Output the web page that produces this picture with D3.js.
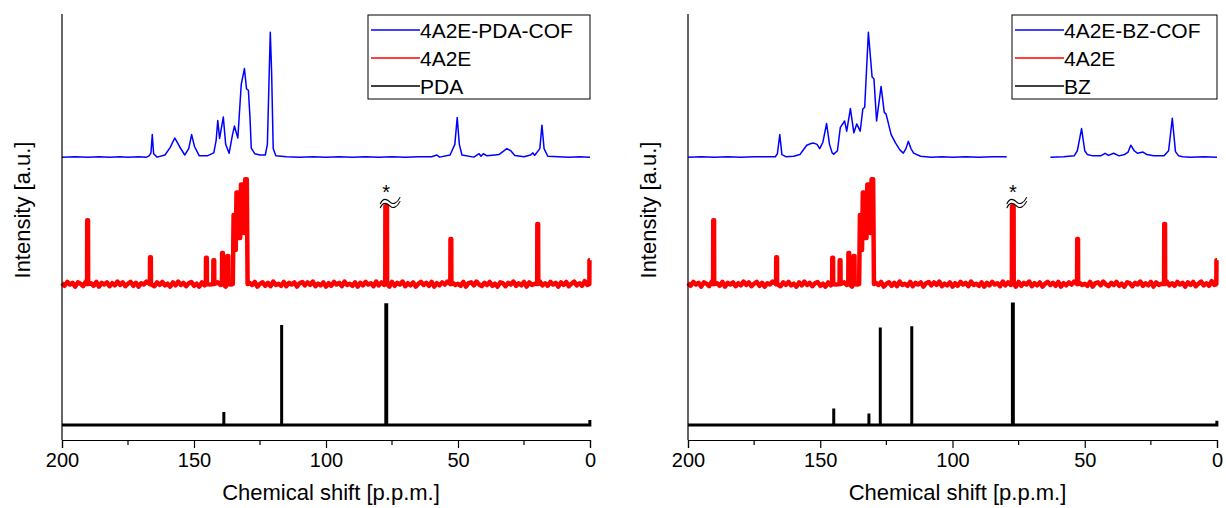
<!DOCTYPE html>
<html>
<head>
<meta charset="utf-8">
<script src="https://cdn.jsdelivr.net/npm/d3@7"></script>
<style>
  body { margin: 0; background: #fff; }
  svg text { font-family: "Liberation Sans", Arial, sans-serif; fill: #000; }
</style>
</head>
<body>
<div id="chart"></div>
<script>
//ppm axis
const xTicks = [200, 150, 100, 50, 0];
const xMinorTicks = [175, 125, 75, 25];

//vertical offsets of the stacked traces (a.u.)
const offsetCOF = 66.4, offsetMonomer = 36.6, offsetLinker = 3.5;

const legendLeft = ["4A2E-PDA-COF", "4A2E", "PDA"];
const legendRight = ["4A2E-BZ-COF", "4A2E", "BZ"];
const seriesColors = ["#0000ff", "#ff0000", "#000000"];

//4A2E-PDA-COF  [ppm, intensity]
const cofPDA = [
  [200, 0], [195, 0.1], [190, 0], [186, 0.1], [182, 0], [178, 0.1], [175, 0], [171, 0.1], [168, 0], [167, 0.3],
  [166.3, 1], [165.8, 5.3], [165.3, 0.8], [164, 0], [161, 0.5], [159, 2.3], [157.3, 4.5], [155.5, 2.5],
  [153.5, 0.5], [152, 2.0], [150.9, 5.3], [149.8, 2.5], [148, 0.3], [145, 0.3], [142.5, 1], [141.6, 4],
  [141.0, 8.6], [140.3, 4.4], [138.9, 9.4], [138, 3], [136.7, 0.9], [135.5, 5], [134.7, 7.3], [133.4, 4.5],
  [132.1, 17.1], [130.9, 20.8], [130.1, 16], [129.4, 15.7], [128.8, 9.4], [128.3, 2.1], [127, 0.8], [125, 0.5],
  [123, 0.5], [122.2, 3], [121.5, 20], [121.1, 29.3], [120.6, 20], [120, 2], [119, 0.3], [115, 0.1], [110, 0],
  [105, 0.1], [100, 0], [95, 0.1], [90, 0], [85, 0.1], [80, 0], [75, 0.1], [70, 0], [65, 0.1], [60, 0.1],
  [58, 0.5], [57, 0], [53, 0.5], [51.2, 3], [50.3, 9.3], [49.5, 3], [48.5, 0.5], [44, 0], [42, 0.8],
  [41.3, 0.2], [40.4, 0.8], [39, 0.3], [36, 0.5], [34.5, 0.6], [33, 1.3], [31.5, 2], [30, 1.5], [28.5, 0.4],
  [25, 0.1], [22.5, 0.5], [21.6, 1.0], [21, 0.4], [19, 2], [18.2, 7.5], [17.4, 2], [16, 0.2], [12, 0.1],
  [8, 0], [4, 0.1], [0, 0]
];

//4A2E-BZ-COF, null marks the cut region
const cofBZ = [
  [200, 0], [195, 0.1], [190, 0], [185, 0.1], [180, 0], [175, 0.1], [170, 0.1], [167, 0.1], [166.2, 0.8],
  [165.3, 5.3], [164.5, 0.6], [163, 0.1], [160, 0.2], [157.7, 0.6], [156.5, 1.6], [155.1, 2.8], [153.5, 3.2],
  [152.5, 3.3], [151.2, 3.0], [150.2, 2.0], [149, 3.5], [147.6, 7.9], [146.5, 3], [145.5, 1.0], [144.9, 0.7],
  [143.5, 1.5], [142.4, 7.0], [141.4, 7.9], [140.8, 8.5], [140.0, 6.1], [138.6, 11.4], [137.3, 5.7],
  [136.2, 7.8], [134.9, 6.1], [133.9, 11.3], [133.2, 11.7], [131.8, 29.3], [130.4, 18.8], [129.7, 18.4],
  [128.7, 8.5], [127.0, 16.6], [125.8, 10.5], [125.1, 10.1], [123.2, 5.3], [121.5, 3.3], [119.9, 1.7],
  [118.6, 0.95], [117.6, 2.0], [116.7, 3.7], [115.7, 2.0], [114.7, 0.95], [112.1, 0.2], [108, 0], [104, 0.1],
  [100, 0], [95, 0.1], [90, 0], [85, 0.1], [80, 0.1], [79.5, 0],
  [71, null],
  [63, 0], [58, 0.1], [54, 0.3], [52.8, 1.5], [51.2, 6.7], [50, 1.5], [49, 0.6], [47, 0.3], [44, 0.3],
  [42.3, 0.9], [41, 0.4], [39.1, 0.9], [37, 0.3], [35, 0.6], [33.6, 1.2], [32.6, 2.8], [31.3, 1.5], [30, 0.9],
  [28.0, 1.2], [26.5, 0.6], [24, 0.3], [20, 0.3], [18.3, 1.5], [16.9, 9.1], [15.7, 1.3], [14.5, 0.3],
  [13, 0.1], [10, 0], [5, 0.1], [0, 0]
];

//4A2E monomer: [ppm, height, half width]
const monomerPeaks = [
  [190.3, 15.0, 0.15], [166.5, 6.3, 0.15], [145.3, 6.2, 0.15], [142.5, 5.6, 0.15], [139.2, 7.3, 0.15],
  [137.2, 6.6, 0.15], [77.2, 18.3, 0.3], [52.7, 10.6, 0.15], [19.8, 14.1, 0.15], [0.1, 5.6, 0.1]
];
//aromatic cluster of 4A2E
const monomerCluster = [
  [135.3, 0], [135.0, 16.2], [134.6, 16.2], [134.2, 8], [133.9, 21.5], [133.5, 21.5], [133.1, 10.8],
  [132.5, 10.8], [132.2, 23.4], [131.4, 23.4], [131.0, 12], [130.6, 24.6], [130.0, 24.6], [129.7, 0]
];
//baseline noise of 4A2E, every 1 ppm from 200 to 0
const monomerNoise = [
  0.2, -0.4, 0.5, -0.1, 0.3, -0.6, 0.4, 0.1, -0.5, 0.6, -0.3, 0.2, -0.4, 0.5, -0.6, 0.3, -0.1, 0.4, -0.5, 0.2,
  -0.3, 0.6, -0.2, 0.4, -0.5, 0.1, 0.5, -0.4, 0.3, -0.6, 0.2, -0.1, 0.6, -0.4, 0.3, -0.5, 0.4, -0.2, 0.5, -0.3,
  0.1, -0.6, 0.4, -0.3, 0.6, -0.2, 0.3, -0.5, 0.2, 0.5, -0.4, 0.1, -0.6, 0.4, -0.3, 0.6, -0.1, 0.2, -0.5, 0.4,
  -0.2, 0.3, -0.6, 0.5, -0.1, 0.4, -0.4, 0.2, -0.5, 0.6, -0.3, 0.3, -0.2, 0.5, -0.6, 0.1, 0.4, -0.4, 0.3, -0.5,
  0.6, -0.2, 0.1, -0.4, 0.5, -0.5, 0.3, -0.1, 0.4, -0.6, 0.2, 0.5, -0.3, 0.4, -0.2, 0.6, -0.5, 0.1, -0.3, 0.4,
  -0.6, 0.2, -0.4, 0.5, -0.1, 0.3, -0.5, 0.6, -0.2, 0.1, -0.4, 0.4, -0.6, 0.3, -0.3, 0.5, -0.1, 0.2, -0.5, 0.6,
  -0.3, 0.4, -0.2, 0.1, -0.6, 0.5, -0.4, 0.3, -0.1, 0.6, -0.5, 0.2, -0.3, 0.4, -0.6, 0.1, 0.5, -0.2, 0.3, -0.4,
  0.5, -0.6, 0.2, -0.3, 0.4, -0.1, 0.6, -0.5, 0.3, -0.2, 0.1, -0.4, 0.5, -0.6, 0.2, 0.4, -0.3, 0.6, -0.1, -0.5,
  0.3, -0.2, 0.5, -0.4, 0.1, -0.6, 0.4, 0.2, -0.5, 0.3, -0.1, 0.6, -0.4, 0.2, -0.3, 0.5, -0.6, 0.4, -0.2, 0.1,
  -0.5, 0.6, -0.3, 0.2, -0.4, 0.5, -0.1, 0.3, -0.6, 0.4, -0.2, 0.5, -0.5, 0.1, 0.6, -0.3, 0.2, -0.4, 0.7, -0.2,
  0.3
];

//linkers, solution spectra as sticks [ppm, height]
const pdaSticks = [[138.7, 3.1], [116.8, 23.5], [77.35, 28.6], [77.0, 28.6], [0.05, 1.2]];
const bzSticks = [[144.9, 3.9], [131.6, 2.7], [127.3, 22.9], [115.4, 23.2], [77.35, 28.8], [77.0, 28.8], [0.05, 1.0]];

const solventPpm = 77.2; //CDCl3, cut and marked with *

const width = 1226, height = 508;
const svg = d3.select("#chart").append("svg")
  .attr("width", width)
  .attr("height", height);

//shared intensity scale
let y = d3.scaleLinear().domain([0, 100]).range([440, 14]);

//build the monomer trace from the peaks and the noise
function monomerTrace() {
  let pts = [];
  monomerPeaks.forEach(function (p) {
    pts.push([p[0] + p[2] + 0.05, 0], [p[0] + p[2], p[1]], [p[0] - p[2], p[1]], [p[0] - p[2] - 0.05, 0]);
  });
  monomerCluster.forEach(function (p) { pts.push(p); });
  monomerNoise.forEach(function (v, i) {
    let ppm = 200 - i;
    let near = monomerPeaks.some(function (p) { return Math.abs(p[0] - ppm) < 0.6; });
    if (!near && !(ppm > 129 && ppm < 136)) pts.push([ppm, v]);
  });
  pts = pts.filter(function (p) { return p[0] <= 200 && p[0] >= 0; });
  pts.sort(function (a, b) { return b[0] - a[0]; });
  return pts;
}

function stickTrace(sticks) {
  let pts = [[200, 0]];
  sticks.forEach(function (s) {
    pts.push([s[0], 0], [s[0], s[1]]);
    if (s[0] > 0.1) pts.push([s[0], 0]);
  });
  return pts;
}

//the "≈" break mark over the cut solvent peak
function breakMark(g, cx, cy) {
  let pt = function (dx, dy) { return (cx + dx) + "," + (cy + dy); };
  let wave = function (o) {
    return "M" + pt(-6, -2 + o) + " C" + pt(-3, -9 + o) + " " + pt(1, -7 + o) + " " + pt(4, -4 + o) +
      " C" + pt(7, -1 + o) + " " + pt(11, -3 + o) + " " + pt(14, -9 + o);
  };
  let back = function (o) {
    return " L" + pt(14, -9 + o) + " C" + pt(11, -3 + o) + " " + pt(7, -1 + o) + " " + pt(4, -4 + o) +
      " C" + pt(1, -7 + o) + " " + pt(-3, -9 + o) + " " + pt(-6, -2 + o) + " Z";
  };
  g.append("path")
    .attr("d", wave(0) + back(4))
    .style("fill", "#fff")
    .style("stroke", "none");
  [0, 4].forEach(function (o) {
    g.append("path")
      .attr("d", wave(o))
      .style("fill", "none")
      .style("stroke", "#000")
      .style("stroke-width", 1.1);
  });
  g.append("text")
    .attr("x", cx)
    .attr("y", cy - 7)
    .attr("text-anchor", "middle")
    .style("font-size", "20px")
    .text("*");
}

function drawPanel(x0, x1, cof, sticks, labels, legendX) {
  let x = d3.scaleLinear().domain([200, 0]).range([x0, x1]);
  let g = svg.append("g");

  let line = function (offset) {
    return d3.line()
      .defined(function (d) { return d[1] !== null; })
      .x(function (d) { return x(d[0]); })
      .y(function (d) { return y(d[1] + offset); });
  };

  //COF
  g.append("path")
    .attr("d", line(offsetCOF)(cof))
    .style("fill", "none")
    .style("stroke", seriesColors[0])
    .style("stroke-width", 1.5)
    .style("stroke-linejoin", "round");

  //monomer
  g.append("path")
    .attr("d", line(offsetMonomer)(monomerTrace()))
    .style("fill", "none")
    .style("stroke", seriesColors[1])
    .style("stroke-width", 4.5)
    .style("stroke-linejoin", "round");

  //linker
  g.append("path")
    .attr("d", line(offsetLinker)(stickTrace(sticks)))
    .style("fill", "none")
    .style("stroke", seriesColors[2])
    .style("stroke-width", 3);

  let top = monomerPeaks.find(function (p) { return p[0] === solventPpm; });
  breakMark(g, x(solventPpm), y(top[1] + offsetMonomer));

  //x axis
  let xAxis = d3.axisBottom(x).tickValues(xTicks).tickSize(8).tickPadding(5).tickFormat(d3.format("d"));
  let ax = g.append("g")
    .attr("transform", "translate(0,440)")
    .call(xAxis);
  ax.select(".domain").attr("stroke-width", 1.2);
  ax.selectAll(".tick line").attr("stroke-width", 1.2);
  ax.selectAll("text").style("font-size", "20px");
  ax.selectAll(".minor")
    .data(xMinorTicks)
    .enter().append("line")
    .attr("x1", function (d) { return x(d); })
    .attr("x2", function (d) { return x(d); })
    .attr("y1", 0).attr("y2", 5)
    .style("stroke", "#000")
    .style("stroke-width", 1.2);

  //y axis (no ticks)
  g.append("line")
    .attr("x1", x0).attr("x2", x0)
    .attr("y1", 14).attr("y2", 440)
    .style("stroke", "#000")
    .style("stroke-width", 1.2);

  g.append("text")
    .attr("x", (x0 + x1) / 2 + 5)
    .attr("y", 500)
    .attr("text-anchor", "middle")
    .style("font-size", "22px")
    .text("Chemical shift [p.p.m.]");

  g.append("text")
    .attr("transform", "translate(" + (x0 - 40) + ",210) rotate(-90)")
    .attr("text-anchor", "middle")
    .attr("dy", "0.35em")
    .style("font-size", "22px")
    .text("Intensity [a.u.]");

  //legend
  let lg = g.append("g").attr("transform", "translate(" + legendX + ",15)");
  lg.append("rect")
    .attr("x", 0).attr("y", 0)
    .attr("width", x1 - legendX).attr("height", 84)
    .style("fill", "#fff")
    .style("stroke", "#000")
    .style("stroke-width", 1);
  labels.forEach(function (d, i) {
    let ly = 15 + i * 28;
    lg.append("line")
      .attr("x1", 3).attr("x2", 52)
      .attr("y1", ly).attr("y2", ly)
      .style("stroke", seriesColors[i])
      .style("stroke-width", 1.6);
    lg.append("text")
      .attr("x", 52)
      .attr("y", ly + 7.5)
      .style("font-size", "21px")
      .text(d);
  });
}

drawPanel(62, 590, cofPDA, pdaSticks, legendLeft, 368);
drawPanel(688, 1217, cofBZ, bzSticks, legendRight, 1012);
</script>
</body>
</html>
